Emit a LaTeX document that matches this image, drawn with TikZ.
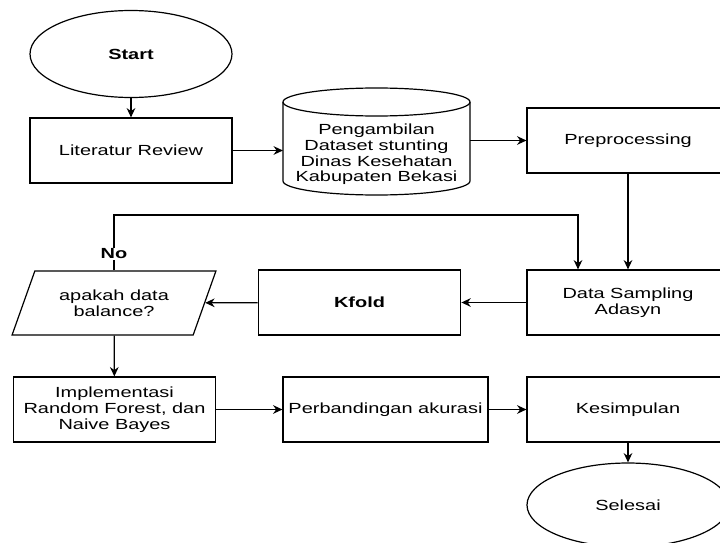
\documentclass[tikz,border=0pt]{standalone}
\usepackage{fontspec}
\setmainfont{Liberation Sans}[FakeStretch=1.36]
\usetikzlibrary{shapes.geometric,arrows.meta}

\begin{document}
\begin{tikzpicture}[x=0.75pt,y=-0.75pt,
        every node/.style={font=\fontsize{11pt}{11.8pt}\selectfont, align=center, inner sep=1pt},
        box/.style={draw, line width=0.9pt, minimum width=151.5pt, minimum height=48.75pt},
        terminal/.style={draw, ellipse, line width=0.9pt, minimum width=151.5pt},
        flow/.style={-{Stealth[length=7pt,width=6.5pt]}, line width=0.9pt}]
        \useasboundingbox (0,0) rectangle (720,542);
        \clip (0,0) rectangle (720,542);

        \node[terminal, minimum height=65.25pt] (start) at (131,54) {\textbf{Start}};
        \node[box] (litrev) at (131,150.5) {Literatur Review};
        \node[minimum width=140pt, minimum height=80pt] (dataset) at (376.5,141.5) {};
        \draw[line width=0.9pt] (376.5,102) ellipse [x radius=93.5, y radius=14];
        \draw[line width=0.9pt] (283,102) -- (283,181) arc [start angle=180, end angle=0, x radius=93.5, y radius=14] -- (470,102);
        \node (datasettext) at (376.5,154.5) {Pengambilan\\Dataset stunting\\Dinas Kesehatan\\Kabupaten Bekasi};
        \node[box] (preproc) at (628,140.5) {Preprocessing};

        \node[box] (datasamp) at (628,302.5) {Data Sampling\\Adasyn};
        \node[box, minimum width=152pt] (kfold) at (359.5,302.5) {\textbf{Kfold}};
        \node[draw, trapezium, trapezium left angle=61, trapezium right angle=119,
            trapezium stretches=true, line width=0.9pt,
            minimum width=153pt, minimum height=48pt] (balance) at (114,303) {apakah data\\balance?};

        \node[box, minimum width=152pt] (impl) at (114.5,409.5) {Implementasi\\Random Forest, dan\\Naive Bayes};
        \node[box, minimum width=153.75pt] (compare) at (385.5,409.5) {Perbandingan akurasi};
        \node[box] (concl) at (628,409.5) {Kesimpulan};
        \node[terminal, minimum height=63pt] (finish) at (628,505) {Selesai};

        \coordinate (loop) at ([xshift=-37.5pt]datasamp.north);

        \draw[flow] (start) -- (litrev);
        \draw[flow] (litrev.east) -- (litrev.east -| dataset.west);
        \draw[flow] (preproc.west -| dataset.east) -- (preproc.west);
        \draw[flow] (preproc) -- (datasamp);
        \draw[flow] (datasamp) -- (kfold);
        \draw[flow] (kfold) -- (balance);
        \draw[flow] (balance.north) -- (balance.north |- 0,215)
            node[pos=0.3, fill=white, inner sep=0.5pt] {\textbf{No}} -| (loop);
        \draw[flow] (balance) -- (impl);
        \draw[flow] (impl) -- (compare);
        \draw[flow] (compare) -- (concl);
        \draw[flow] (concl) -- (finish);
    \end{tikzpicture}
\end{document}
